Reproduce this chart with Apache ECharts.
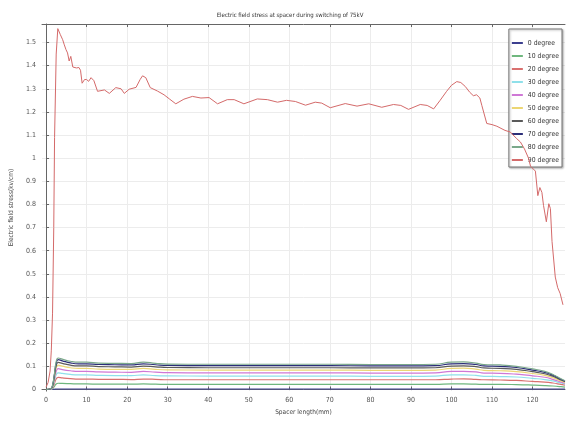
<!DOCTYPE html>
<html><head><meta charset="utf-8">
<script src="https://cdn.jsdelivr.net/npm/echarts@6/dist/echarts.min.js"></script>
<style>html,body{margin:0;padding:0;background:#fff}#c{width:566px;height:421px}</style>
</head><body><div id="c"></div>
<script>
const seriesNames = ['0 degree','10 degree','20 degree','30 degree','40 degree','50 degree','60 degree','70 degree','80 degree','90 degree'];
const xTicks = [0,10,20,30,40,50,60,70,80,90,100,110,120];
const yTicks = [0,0.1,0.2,0.3,0.4,0.5,0.6,0.7,0.8,0.9,1,1.1,1.2,1.3,1.4,1.5];
const xLow = [0,1,1.5,2,2.5,3,4,6,8,10,13,17,21,24,27,30,40,50,60,70,80,90,96,100,103,106,108,112,116,120,123,125,127,128];
const deg0  = [0,0,0,0.001,0.002,0.002,0.002,0.002,0.002,0.002,0.002,0.002,0.002,0.002,0.002,0.002,0.002,0.002,0.002,0.002,0.002,0.002,0.002,0.002,0.002,0.002,0.002,0.002,0.002,0.002,0.002,0.002,0.002,0.002];
const deg10 = [0,0,0.002,0.012,0.024,0.027,0.026,0.025,0.024,0.024,0.023,0.023,0.023,0.024,0.023,0.022,0.022,0.022,0.022,0.022,0.022,0.022,0.022,0.024,0.024,0.023,0.022,0.022,0.021,0.019,0.017,0.015,0.012,0.010];
const deg20 = [0,0.001,0.004,0.023,0.046,0.052,0.050,0.047,0.045,0.045,0.044,0.044,0.043,0.045,0.044,0.042,0.042,0.042,0.042,0.042,0.042,0.042,0.042,0.045,0.046,0.044,0.042,0.041,0.039,0.035,0.032,0.028,0.022,0.019];
const deg30 = [0,0.001,0.006,0.032,0.064,0.072,0.070,0.065,0.063,0.063,0.061,0.060,0.060,0.063,0.060,0.059,0.058,0.058,0.058,0.058,0.057,0.057,0.058,0.063,0.063,0.061,0.057,0.056,0.054,0.048,0.043,0.037,0.028,0.024];
const deg40 = [0,0.001,0.007,0.040,0.079,0.090,0.086,0.081,0.078,0.078,0.076,0.075,0.074,0.078,0.075,0.073,0.072,0.072,0.072,0.072,0.071,0.071,0.072,0.078,0.078,0.076,0.071,0.070,0.066,0.059,0.053,0.044,0.032,0.027];
const deg50 = [0,0.002,0.008,0.046,0.092,0.105,0.101,0.094,0.091,0.091,0.088,0.087,0.087,0.091,0.087,0.085,0.084,0.084,0.084,0.084,0.083,0.083,0.084,0.091,0.092,0.088,0.083,0.081,0.077,0.069,0.061,0.051,0.037,0.031];
const deg60 = [0,0.002,0.009,0.052,0.103,0.117,0.113,0.105,0.102,0.102,0.099,0.098,0.097,0.101,0.098,0.095,0.094,0.094,0.094,0.094,0.093,0.093,0.094,0.101,0.102,0.099,0.093,0.091,0.087,0.077,0.068,0.057,0.041,0.034];
const deg70 = [0,0.002,0.010,0.057,0.113,0.129,0.124,0.115,0.111,0.111,0.108,0.107,0.106,0.111,0.107,0.104,0.103,0.103,0.103,0.103,0.102,0.102,0.103,0.111,0.112,0.108,0.102,0.100,0.095,0.084,0.074,0.062,0.044,0.036];
const deg80 = [0,0.002,0.011,0.060,0.120,0.136,0.131,0.122,0.118,0.118,0.114,0.113,0.112,0.118,0.113,0.110,0.109,0.109,0.109,0.109,0.108,0.108,0.109,0.118,0.119,0.114,0.108,0.106,0.100,0.089,0.078,0.065,0.046,0.038];
const x90 = [0,0.5,1,1.3,1.6,1.9,2.1,2.5,2.9,3.5,4.1,4.5,4.9,5.3,5.7,6.1,6.6,7.5,8.1,8.5,8.9,9.5,10,10.5,11.1,11.8,12.7,14.4,15.6,17.2,18.5,19.3,20.5,22.2,23.2,23.8,24.6,25.7,27.5,29.1,30.5,32,34,36.1,38.2,40.2,42.3,44.7,46.4,48.8,52.1,54.6,57.1,59.3,61.5,64,66.4,68,70.1,73.8,76.7,79.6,82.8,85.7,87.5,89.4,92.3,94,95.6,97.2,98.8,100,101.3,102.3,103.4,104.5,105.4,106.2,107,107.5,108.7,110,111.2,113.2,114.5,116.1,117,118,119,119.5,120.7,121.3,121.8,122.3,122.7,123.4,124,124.4,124.8,125.6,126.2,126.8,127.5];
const deg90 = [0.01,0.03,0.08,0.17,0.33,0.7,1.09,1.45,1.56,1.535,1.512,1.49,1.47,1.455,1.42,1.44,1.394,1.39,1.392,1.38,1.324,1.34,1.34,1.332,1.348,1.335,1.289,1.295,1.28,1.305,1.30,1.28,1.298,1.306,1.34,1.356,1.348,1.305,1.29,1.274,1.255,1.235,1.255,1.267,1.26,1.262,1.235,1.253,1.253,1.235,1.256,1.253,1.242,1.25,1.245,1.229,1.242,1.238,1.218,1.236,1.225,1.235,1.22,1.232,1.228,1.211,1.232,1.228,1.213,1.25,1.289,1.315,1.331,1.327,1.31,1.285,1.27,1.274,1.26,1.227,1.15,1.145,1.138,1.12,1.113,1.084,1.07,1.04,1.0,0.965,0.944,0.838,0.873,0.852,0.796,0.725,0.803,0.782,0.64,0.486,0.44,0.415,0.366];

const colors = ['#3c3f8f','#6fb77e','#d9706f','#8fe0ea','#cf78d6','#ecd673','#5a5a5a','#2c2e78','#7aa88a','#d46a6a'];
const lowData = [deg0,deg10,deg20,deg30,deg40,deg50,deg60,deg70,deg80];
const series = lowData.map((arr,i)=>({
  name: seriesNames[i], type:'line', symbol:'none', smooth:true, animation:false,
  data: xLow.map((x,j)=>[x,arr[j]]),
  lineStyle:{width:1.2,color:colors[i]}, itemStyle:{color:colors[i]}, z: 2+i
}));
series.push({name: seriesNames[9], type:'line', symbol:'none', animation:false,
  data: x90.map((x,j)=>[x,deg90[j]]), lineStyle:{width:1,color:colors[9]}, itemStyle:{color:colors[9]}, z:20});

const font = 'DejaVu Sans Condensed, Liberation Sans Narrow, sans-serif';
const chart = echarts.init(document.getElementById('c'), null, {renderer:'canvas'});
chart.setOption({
  backgroundColor:'#fff',
  title:{text:'Electric field stress at spacer during switching of 75kV', left:285, textAlign:'center', top:7,
    textStyle:{fontSize:6, fontWeight:'normal', color:'#333', fontFamily:font}},
  legend:{orient:'vertical', right:4, top:29, padding:[10,3,3,3], itemGap:5, itemWidth:11, itemHeight:2, itemTextGap:3,
    backgroundColor:'#fff', borderColor:'#777', borderWidth:1, shadowColor:'rgba(0,0,0,0.3)', shadowBlur:2, shadowOffsetX:1, shadowOffsetY:1,
    textStyle:{fontSize:6.8, lineHeight:8, color:'#333', fontFamily:font},
    data: seriesNames.map(n=>({name:n, icon:'path://M0,0H11V2H0Z'}))},
  grid:{left:41, right:1, top:24, bottom:21},
  xAxis:[{type:'value', min:-1, max:128, name:'Spacer length(mm)', nameLocation:'middle', nameGap:12,
    nameTextStyle:{fontSize:6.5, color:'#444', fontFamily:font},
    axisLine:{show:true,lineStyle:{color:'#666'}}, axisTick:{inside:true, length:3, customValues:xTicks, lineStyle:{color:'#666'}},
    axisLabel:{customValues:xTicks, fontSize:7, color:'#555', margin:6, fontFamily:font},
    splitLine:{show:true, lineStyle:{color:'#ececec'}}},
    {type:'value', position:'top', min:-1, max:128, axisLine:{show:true,lineStyle:{color:'#666'}},
    axisTick:{inside:true,length:3,customValues:xTicks,lineStyle:{color:'#666'}}, axisLabel:{show:false}, splitLine:{show:false}}],
  yAxis:[{type:'value', min:-0.007, max:1.58, name:'Electric field stress(kv/cm)', nameLocation:'middle', nameGap:27,
    nameTextStyle:{fontSize:6.5, color:'#444', fontFamily:font},
    axisLine:{show:true,lineStyle:{color:'#666'}}, axisTick:{inside:true, length:3, customValues:yTicks, lineStyle:{color:'#666'}},
    axisLabel:{customValues:yTicks, fontSize:7, color:'#555', margin:6, fontFamily:font},
    splitLine:{show:true, lineStyle:{color:'#ececec'}}}],
  series: series
});
</script></body></html>
